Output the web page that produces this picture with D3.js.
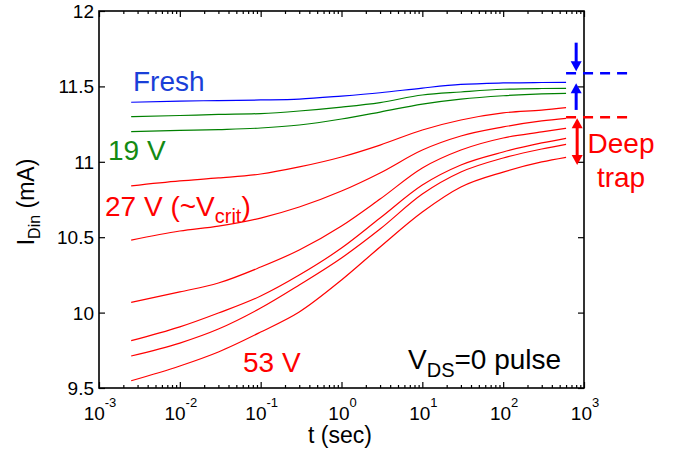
<!DOCTYPE html>
<html>
<head>
<meta charset="utf-8">
<script src="https://cdn.jsdelivr.net/npm/d3@7"></script>
<style>
body { margin: 0; background: #fff; }
text { font-family: "Liberation Sans", Arial, Helvetica, sans-serif; }
</style>
</head>
<body>
<div class="board"></div>
<script>
// data
var times = [2.5e-3, 1e-2, 3e-2, 1e-1, 3e-1, 1, 3, 10, 30, 100, 300, 600];
var fresh  = [11.395, 11.403, 11.406, 11.410, 11.416, 11.436, 11.458, 11.489, 11.513, 11.523, 11.526, 11.527];
var green1 = [11.299, 11.307, 11.314, 11.320, 11.337, 11.363, 11.393, 11.443, 11.463, 11.481, 11.486, 11.487];
var green2 = [11.200, 11.208, 11.214, 11.224, 11.244, 11.284, 11.330, 11.383, 11.416, 11.438, 11.450, 11.454];
var red1   = [10.840, 10.873, 10.893, 10.919, 10.966, 11.032, 11.111, 11.211, 11.277, 11.324, 11.343, 11.359];
var red2   = [10.481, 10.541, 10.574, 10.627, 10.700, 10.806, 10.926, 11.078, 11.171, 11.231, 11.271, 11.288];
var red3   = [10.068, 10.137, 10.196, 10.302, 10.415, 10.574, 10.753, 10.959, 11.078, 11.158, 11.198, 11.222];
var red4   = [9.814, 9.905, 9.997, 10.110, 10.249, 10.428, 10.627, 10.846, 10.979, 11.065, 11.125, 11.156];
var red5   = [9.712, 9.798, 9.891, 10.030, 10.183, 10.362, 10.554, 10.786, 10.932, 11.025, 11.085, 11.116];
var red6   = [9.548, 9.646, 9.739, 9.871, 10.004, 10.216, 10.435, 10.667, 10.833, 10.932, 10.999, 11.030];

var xExponents = [-3, -2, -1, 0, 1, 2, 3];
var yTicks = [9.5, 10, 10.5, 11, 11.5, 12];

var freshLevel = 11.587;  // blue dashed
var deepLevel = 11.295;   // red dashed
var deepBottom = 10.979;

var series = [
  {v: fresh, c: '#0000ff'},
  {v: green1, c: '#008000'},
  {v: green2, c: '#008000'},
  {v: red1, c: '#ff0000'},
  {v: red2, c: '#ff0000'},
  {v: red3, c: '#ff0000'},
  {v: red4, c: '#ff0000'},
  {v: red5, c: '#ff0000'},
  {v: red6, c: '#ff0000'}
];

var boardWidth = 674;
var boardHeight = 452;
var plotLeft = 99, plotRight = 584, plotTop = 11, plotBottom = 388;

var svg = d3.select('.board')
            .append('svg')
            .attr('width', boardWidth)
            .attr('height', boardHeight);

var x = d3.scaleLog().domain([1e-3, 1e3]).range([plotLeft, plotRight]);
var y = d3.scaleLinear().domain([9.5, 12]).range([plotBottom, plotTop]);

var majors = xExponents.map(function(e) { return Math.pow(10, e); });
var minors = [];
xExponents.slice(0, -1).forEach(function(e) {
  for (var m = 2; m <= 9; m++) minors.push(m * Math.pow(10, e));
});

// curves
var line = d3.line()
             .x(function(d) { return x(d[0]); })
             .y(function(d) { return y(d[1]); })
             .curve(d3.curveMonotoneX);

svg.selectAll('path.curve')
   .data(series)
   .enter()
   .append('path')
   .attr('class', 'curve')
   .attr('d', function(s) { return line(times.map(function(t, i) { return [t, s.v[i]]; })); })
   .attr('fill', 'none')
   .attr('stroke', function(s) { return s.c; })
   .attr('stroke-width', 1.2);

// axes: ticks inside on all four sides
function styleAxis(g) {
  g.select('.domain').remove();
  g.selectAll('line').attr('stroke', '#000').attr('stroke-width', 1.2);
}
svg.append('g').attr('transform', 'translate(0,' + plotBottom + ')')
   .call(d3.axisBottom(x).tickValues(majors).tickSize(-6).tickFormat('')).call(styleAxis);
svg.append('g').attr('transform', 'translate(0,' + plotBottom + ')')
   .call(d3.axisBottom(x).tickValues(minors).tickSize(-3).tickFormat('')).call(styleAxis);
svg.append('g').attr('transform', 'translate(0,' + plotTop + ')')
   .call(d3.axisTop(x).tickValues(majors).tickSize(-6).tickFormat('')).call(styleAxis);
svg.append('g').attr('transform', 'translate(0,' + plotTop + ')')
   .call(d3.axisTop(x).tickValues(minors).tickSize(-3).tickFormat('')).call(styleAxis);
svg.append('g').attr('transform', 'translate(' + plotLeft + ',0)')
   .call(d3.axisLeft(y).tickValues(yTicks).tickSize(-6).tickFormat('')).call(styleAxis);
svg.append('g').attr('transform', 'translate(' + plotRight + ',0)')
   .call(d3.axisRight(y).tickValues(yTicks).tickSize(-6).tickFormat('')).call(styleAxis);

svg.append('rect')
   .attr('x', plotLeft).attr('y', plotTop)
   .attr('width', plotRight - plotLeft).attr('height', plotBottom - plotTop)
   .attr('fill', 'none').attr('stroke', '#000').attr('stroke-width', 1.6);

// tick labels
svg.selectAll('text.ylab')
   .data(yTicks)
   .enter()
   .append('text')
   .attr('class', 'ylab')
   .attr('x', 94)
   .attr('y', function(d) { return y(d) + 7; })
   .attr('text-anchor', 'end')
   .attr('font-size', 19)
   .text(function(d) { return String(d); });

var xl = svg.selectAll('text.xlab')
   .data(xExponents)
   .enter()
   .append('text')
   .attr('class', 'xlab')
   .attr('x', function(d) { return x(Math.pow(10, d)) + 1; })
   .attr('y', 420)
   .attr('text-anchor', 'middle')
   .attr('font-size', 19);
xl.append('tspan').text('10');
xl.append('tspan').attr('font-size', 13).attr('dy', -13).text(function(d) { return String(d); });

svg.append('text')
   .attr('x', 340).attr('y', 443)
   .attr('text-anchor', 'middle')
   .attr('font-size', 23)
   .text('t (sec)');

var yl = svg.append('text')
   .attr('transform', 'translate(34,202) rotate(-90)')
   .attr('text-anchor', 'middle')
   .attr('font-size', 23);
yl.append('tspan').text('I');
yl.append('tspan').attr('font-size', 16).attr('dy', 6).text('Din');
yl.append('tspan').attr('dy', -6).text(' (mA)');

// labels
function label(txt, px, py, color) {
  return svg.append('text').attr('x', px).attr('y', py)
            .attr('font-size', 28).attr('fill', color).text(txt);
}
label('Fresh', 133, 90.5, '#1a3fd8');
label('19 V', 108, 159.5, '#138a13');
label('53 V', 243, 371.5, '#ff0000');
var crit = label('27 V (~V', 105, 216, '#ff0000');
crit.append('tspan').attr('font-size', 20).attr('dy', 7).text('crit');
crit.append('tspan').attr('dy', -7).text(')');
var vds = label('V', 408, 369, '#000');
vds.append('tspan').attr('font-size', 20).attr('dy', 8).text('DS');
vds.append('tspan').attr('dy', -8).text('=0 pulse');

svg.append('text').attr('x', 621).attr('y', 153.3).attr('text-anchor', 'middle')
   .attr('font-size', 28).attr('fill', '#ff0000').text('Deep');
svg.append('text').attr('x', 621).attr('y', 186.7).attr('text-anchor', 'middle')
   .attr('font-size', 28).attr('fill', '#ff0000').text('trap');

// dashed levels
var tEnd = 600, tFar = 3430, tArrow = 800;
[[freshLevel, '#0000ff'], [deepLevel, '#ff0000']].forEach(function(l) {
  svg.append('line')
     .attr('x1', x(tEnd)).attr('x2', x(tFar))
     .attr('y1', y(l[0])).attr('y2', y(l[0]))
     .attr('stroke', l[1]).attr('stroke-width', 2.5)
     .attr('stroke-dasharray', '10,7');
});

// arrows
function arrow(px, yFrom, yTo, color, both) {
  var h = 10, w = 5.5;
  var dir = yTo > yFrom ? 1 : -1;
  svg.append('line')
     .attr('x1', px).attr('x2', px)
     .attr('y1', both ? yFrom + dir * h * 0.8 : yFrom).attr('y2', yTo - dir * h * 0.8)
     .attr('stroke', color).attr('stroke-width', 3);
  var head = function(tip, d) {
    svg.append('path')
       .attr('d', 'M' + px + ',' + tip + 'L' + (px - w) + ',' + (tip - d * h) +
                  'L' + (px + w) + ',' + (tip - d * h) + 'Z')
       .attr('fill', color);
  };
  head(yTo, dir);
  if (both) head(yFrom, -dir);
}
arrow(x(tArrow), y(11.790), y(freshLevel) - 2, '#0000ff', false);
arrow(x(tArrow), y(11.344), y(fresh[fresh.length - 1]) + 1, '#0000ff', false);
arrow(x(tArrow) + 1, y(deepLevel) + 1, y(deepBottom), '#ff0000', true);
</script>
</body>
</html>
